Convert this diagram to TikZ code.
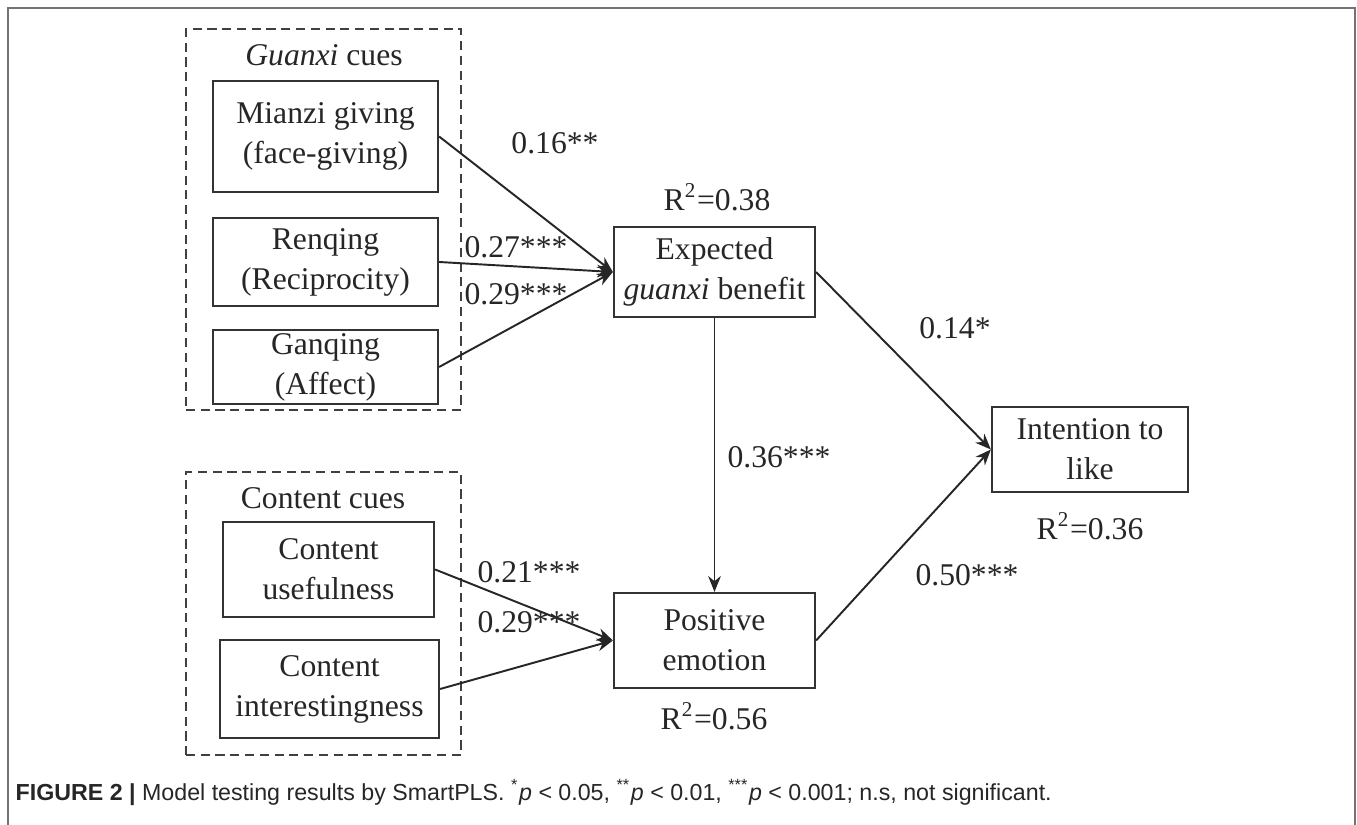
\documentclass[tikz,border=0pt]{standalone}
\usepackage{fontspec}
\setmainfont{Liberation Serif}
\newfontfamily\capfont{Liberation Sans}
\usetikzlibrary{arrows.meta}
\begin{document}
\begin{tikzpicture}[x=0.01cm,y=-0.01cm,
  every node/.style={font=\fontsize{9}{11.4}\selectfont, text=black!85},
  box/.style={draw=black!80, line width=0.6pt, inner sep=0pt, align=center},
  grp/.style={draw=black!75, dash pattern=on 2.6pt off 1.6pt, line width=0.6pt, inner sep=0pt},
  arr/.style={draw=black!85, -{Stealth[length=4.5pt,width=3.6pt]}, line width=0.55pt},
  lbl/.style={inner sep=0pt}]
\useasboundingbox (0,0) rectangle (1357,825);
\draw[black!55, line width=0.8pt] (8,825) -- (8,8) -- (1355,8) -- (1355,825);
% groups
\node[grp, minimum width=2.75cm, minimum height=3.81cm] (gg) at (323.5,219.5) {};
\node[grp, minimum width=2.75cm, minimum height=2.83cm] (cg) at (323.5,613.5) {};
\node[lbl] (gt) at (324,55) {\textit{Guanxi} cues};
\node[lbl] (ct) at (323,498) {Content cues};
% boxes
\node[box, minimum width=2.25cm, minimum height=1.11cm] (mz) at (325.5,136.5) {Mianzi giving\\(face-giving)};
\node[box, minimum width=2.25cm, minimum height=0.88cm] (rq) at (325.5,262) {Renqing\\(Reciprocity)};
\node[box, minimum width=2.25cm, minimum height=0.74cm] (gq) at (325.5,367) {Ganqing\\(Affect)};
\node[box, minimum width=2.11cm, minimum height=0.95cm] (cu) at (328.5,569.5) {Content\\usefulness};
\node[box, minimum width=2.19cm, minimum height=0.98cm] (ci) at (329.5,689) {Content\\interestingness};
\node[box, minimum width=2.01cm, minimum height=0.90cm] (eg) at (714.5,272) {Expected\\\textit{guanxi} benefit};
\node[box, minimum width=2.01cm, minimum height=0.95cm] (pe) at (714.5,640.5) {Positive\\emotion};
\node[box, minimum width=1.96cm, minimum height=0.85cm] (il) at (1090,449.5) {Intention to\\like};
% R2
\node[lbl] (r1) at (717,197) {R\textsuperscript{2}=0.38};
\node[lbl] (r2) at (714,716) {R\textsuperscript{2}=0.56};
\node[lbl] (r3) at (1090,526) {R\textsuperscript{2}=0.36};
% arrows
\draw[arr] (mz.east) -- (eg.west);
\draw[arr] (rq.east) -- (eg.west);
\draw[arr] (gq.east) -- (eg.west);
\draw[arr] (cu.east) -- (pe.west);
\draw[arr] (ci.east) -- (pe.west);
\draw[arr] (eg.south) -- (pe.north);
\draw[arr] (eg.east) -- (il.west);
\draw[arr] (pe.east) -- (il.west);
% coefficients
\node[lbl] (c1) at (555,143) {0.16**};
\node[lbl] (c2) at (516,247) {0.27***};
\node[lbl] (c3) at (516,294) {0.29***};
\node[lbl] (c4) at (955,328) {0.14*};
\node[lbl] (c5) at (779,457) {0.36***};
\node[lbl] (c6) at (529,572) {0.21***};
\node[lbl] (c7) at (529,622) {0.29***};
\node[lbl] (c8) at (967,575) {0.50***};
% caption
\node[anchor=base west, inner sep=0pt, font=\capfont\fontsize{6.6}{8}\selectfont, text=black!85] (cap) at (15,801)
 {\textbf{FIGURE 2 |} Model testing results by SmartPLS. \textsuperscript{*}\textit{p} < 0.05, \textsuperscript{**}\textit{p} < 0.01, \textsuperscript{***}\textit{p} < 0.001; n.s, not significant.};
\end{tikzpicture}
\end{document}
